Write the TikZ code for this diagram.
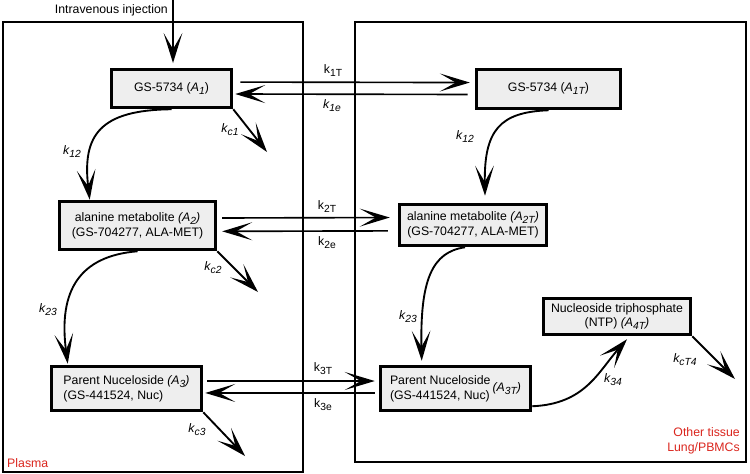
\documentclass[tikz,border=0pt]{standalone}
\usepackage{fontspec}
\setmainfont{Liberation Sans}
\usetikzlibrary{arrows.meta,calc}
\definecolor{compfill}{RGB}{238,238,238}
\definecolor{tissuered}{RGB}{218,37,29}
\newcommand{\lowsub}[1]{\raisebox{-0.45ex}{\fontsize{8.8}{10}\selectfont #1}}
\newcommand{\kit}[1]{\textit{k\lowsub{#1}}}
\newcommand{\kup}[1]{k\lowsub{#1}}
\newcommand{\cmpt}[1]{\textit{A\lowsub{#1}}}
\begin{document}
\begin{tikzpicture}[x=0.03cm, y=-0.03cm, font=\fontsize{10.5}{12.8}\selectfont,
  comp/.style = {draw, line width=3pt, fill=compfill, inner sep=1pt, align=center},
  frame/.style = {draw, line width=2.5pt},
  arr/.style = {-{Stealth[length=0.9cm, width=0.56cm, inset=0.48cm]}, line width=1.6pt},
  flow/.style = {-{Stealth[length=0.9cm, width=0.54cm, inset=0.48cm]}, line width=1.4pt},
  rate/.style = {inner sep=0pt},
  region/.style = {text=tissuered, inner sep=0pt, align=right}]
\useasboundingbox (0,0) rectangle (750,474);
\draw[frame] (3,22) rectangle (303,472);
\draw[frame] (355,22) rectangle (746,462);
\node[comp, minimum width=3.6cm, minimum height=1.14cm] (a1) at (171.5,88.5) {GS-5734 (\cmpt{1})};
\node[comp, minimum width=4.32cm, minimum height=1.17cm] (a1t) at (548.5,89) {GS-5734 (\cmpt{1T})};
\node[comp, minimum width=4.68cm, minimum height=1.44cm] (a2) at (137.5,225.5) {alanine metabolite \textit{(A\lowsub{2})}\\(GS-704277, ALA-MET)};
\node[comp, minimum width=4.41cm, minimum height=1.23cm] (a2t) at (473,225) {alanine metabolite \textit{(A\lowsub{2T})}\\(GS-704277, ALA-MET)};
\node[comp, align=left, minimum width=4.5cm, minimum height=1.32cm] (a3) at (126.5,388.5) {Parent Nuceloside \textit{(A\lowsub{3})}\\(GS-441524, Nuc)};
\node[comp, minimum width=4.5cm, minimum height=1.32cm] (a3t) at (455.5,388.5) {\begin{tabular}{@{}l@{}}Parent Nuceloside\\(GS-441524, Nuc)\end{tabular}\,\textit{(A\lowsub{3T})}};
\node[comp, minimum width=4.41cm, minimum height=1.08cm] (a4t) at (617,316.5) {Nucleoside triphosphate\\(NTP) \textit{(A\lowsub{4T})}};
\node[rate, anchor=east] (iv) at (168,10) {Intravenous injection};
\coordinate (inj) at (173,0);
\coordinate (c1) at (267,152);
\coordinate (c2) at (258,292);
\coordinate (c3) at (245,456);
\coordinate (c4) at (735,379);
\node[rate] (k1T) at (333,71) {\kup{1T}};
\node[rate] (k1e) at (332,106) {\kit{1e}};
\node[rate] (k2T) at (327,207) {\kup{2T}};
\node[rate] (k2e) at (327,243) {\kup{2e}};
\node[rate] (k3T) at (323,369) {\kup{3T}};
\node[rate] (k3e) at (323,405) {\kup{3e}};
\node[rate] (kc1) at (230,130) {\kit{c1}};
\node[rate] (kc2) at (213,268) {\kit{c2}};
\node[rate] (kc3) at (197,430) {\kit{c3}};
\node[rate] (kcT4) at (685,360) {\kit{cT4}};
\node[rate] (k12a) at (72,152) {\kit{12}};
\node[rate] (k12b) at (465,137) {\kit{12}};
\node[rate] (k23a) at (48,310) {\kit{23}};
\node[rate] (k23b) at (408,317) {\kit{23}};
\node[rate] (k34) at (613,380) {\kit{34}};
\node[region, anchor=west] (plasma) at (7,463) {Plasma};
\node[region, anchor=east] (tissue) at (740,441) {Other tissue\\Lung/PBMCs};
\draw[arr, shorten >=4pt] (inj) -- (inj |- a1.north);
\draw[flow, shorten <=6pt, shorten >=4.2pt] ([yshift=5.5pt]a1.east) -- ([yshift=5.5pt]a1t.west);
\draw[flow, shorten <=6pt, shorten >=1.7pt] ([yshift=-4.7pt]a1t.west) -- ([yshift=-4.7pt]a1.east);
\draw[flow, shorten <=4.2pt, shorten >=6.8pt] ([yshift=6.4pt]a2.east) -- ([yshift=6.4pt]a2t.west);
\draw[flow, shorten <=8.5pt, shorten >=4.2pt] ([yshift=-5pt]a2t.west) -- ([yshift=-5pt]a2.east);
\draw[flow, shorten <=3.4pt, shorten >=3.4pt] ([yshift=6.4pt]a3.east) -- ([yshift=6.4pt]a3t.west);
\draw[flow, shorten <=3.4pt, shorten >=1.7pt] ([yshift=-3.8pt]a3t.west) -- ([yshift=-3.8pt]a3.east);
\draw[arr] (a1.south east) -- (c1);
\draw[arr] (a2.south east) -- (c2);
\draw[arr] (a3.south east) -- (c3);
\draw[arr] (a4t.south east) -- (c4);
\draw[arr] (a1.south) .. controls (100,110) and (82,135) .. ($(a2.north west)+(32,0)$);
\draw[arr] (a1t.south) .. controls (500,112) and (484,130) .. ($(a2t.north)+(12,-7)$);
\draw[arr] (a2.south) .. controls (80,256) and (58,290) .. ($(a3.north west)+(18,-1)$);
\draw[arr] ($(a2t.south)+(-8,0)$) .. controls (432,252) and (420,280) .. ($(a3t.north west)+(43,-4)$);
\draw[arr] ($(a3t.south east)+(0,-6)$) .. controls (585,404) and (598,372) .. ($(a4t.south)+(10,3)$);
\end{tikzpicture}
\end{document}
